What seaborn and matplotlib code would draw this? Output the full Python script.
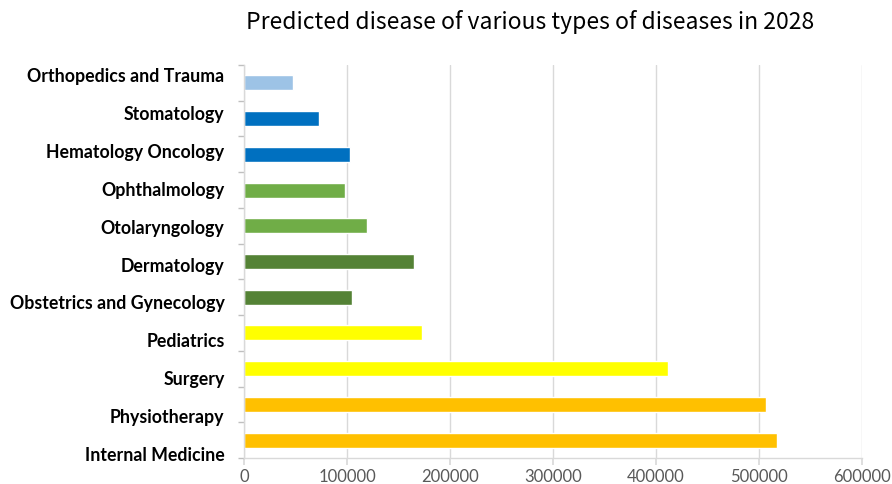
import matplotlib
matplotlib.use("Agg")
import matplotlib.pyplot as plt
import seaborn as sns
import pandas as pd

# Departments, listed top to bottom
departments = [
    "Orthopedics and Trauma",
    "Stomatology",
    "Hematology Oncology",
    "Ophthalmology",
    "Otolaryngology",
    "Dermatology",
    "Obstetrics and Gynecology",
    "Pediatrics",
    "Surgery",
    "Physiotherapy",
    "Internal Medicine",
]
predicted_cases = [47600, 72500, 102600, 98400, 119100, 165000,
                   105200, 173000, 411500, 507000, 517000]
bar_colors = ["#9DC3E6", "#0070C0", "#0070C0", "#70AD47", "#70AD47",
              "#548235", "#548235", "#FFFF00", "#FFFF00", "#FFC000", "#FFC000"]
x_ticks = [0, 100000, 200000, 300000, 400000, 500000, 600000]

df = pd.DataFrame({"department": departments, "cases": predicted_cases})

sns.set_theme(style="white")
plt.rcParams["font.family"] = ["Lato", "DejaVu Sans"]

fig = plt.figure(figsize=(8.92, 4.84), dpi=100)
ax = fig.add_axes([244 / 892, 1 - 458 / 484, 618 / 892, 393 / 484])

sns.barplot(data=df, y="department", x="cases", hue="department",
            palette=bar_colors, order=departments, hue_order=departments,
            width=0.42, legend=False, ax=ax, saturation=1)

ax.set_xlim(0, 600000)
ax.set_ylim(len(departments) - 0.5, -0.5)
ax.set_xticks(x_ticks)
ax.set_xticklabels([str(t) for t in x_ticks])
ax.set_xlabel("")
ax.set_ylabel("")

ax.grid(axis="x", color="#D9D9D9", linewidth=1)
ax.set_axisbelow(True)
for side in ["top", "right"]:
    ax.spines[side].set_visible(False)
for side in ["left", "bottom"]:
    ax.spines[side].set_color("#D9D9D9")
    ax.spines[side].set_linewidth(1)

# category labels are spaced slightly wider than the bars
label_pos = [-0.225 + 1.062 * i for i in range(len(departments))]
ax.set_yticks(label_pos)
ax.set_yticklabels(departments)

# category separators on the left axis
ax.set_yticks([i - 0.5 for i in range(len(departments) + 1)], minor=True)
ax.tick_params(axis="y", which="minor", length=4, color="#BFBFBF", left=True)
ax.tick_params(axis="y", which="major", length=0, pad=14)
ax.tick_params(axis="x", length=5, color="#D9D9D9", bottom=True,
               labelcolor="#595959", labelsize=12, pad=3)
for lbl in ax.get_yticklabels():
    lbl.set_fontweight("bold")
    lbl.set_fontsize(12.8)
    lbl.set_color("black")

fig.text(530 / 892, 1 - 22 / 484, "Predicted disease of various types of diseases in 2028",
         ha="center", va="center", fontsize=16.5, color="black",
         family=["Noto Sans CJK SC", "DejaVu Sans"])

fig.savefig("out.png", dpi=100, facecolor="white")
